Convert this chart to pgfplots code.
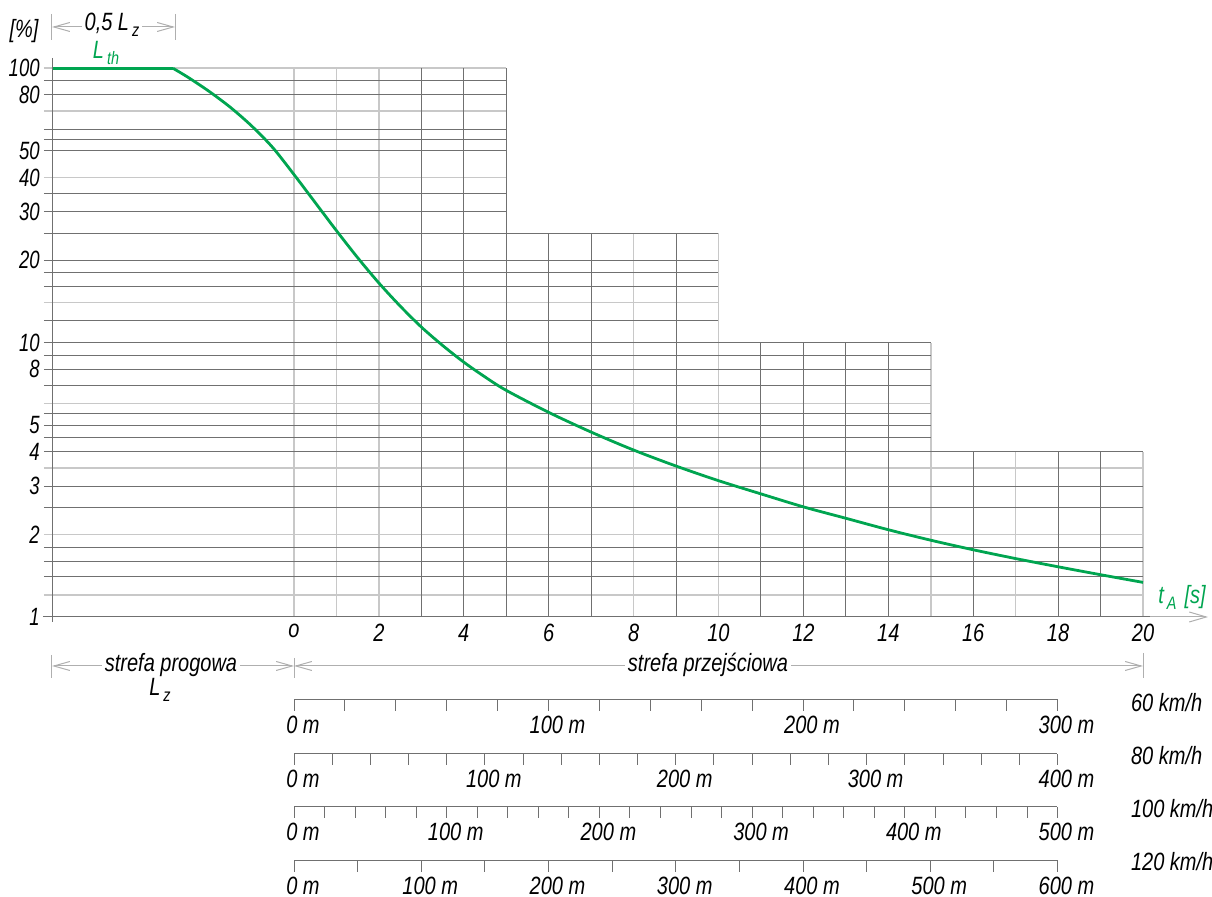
\documentclass[border=0pt]{standalone}
\usepackage{pgfplots}
\usepackage{pgfplotstable}
\pgfplotsset{compat=1.18}
\usepackage{fontspec}
\setmainfont{Liberation Sans}[FakeStretch=0.8]
\newfontfamily\narrowfont{Liberation Sans}[FakeStretch=0.74]
\usetikzlibrary{arrows.meta}
\definecolor{cg}{RGB}{0,165,80}
\definecolor{gdk}{RGB}{112,112,112}
\definecolor{glt}{RGB}{200,200,200}
\definecolor{dim}{RGB}{175,175,175}
\newcommand{\lab}{\fontsize{12.5}{14}\selectfont\itshape}
\newcommand{\nlab}{\narrowfont\fontsize{12.5}{14}\selectfont\itshape}
\newcommand{\sub}[1]{\kern1.5pt\raisebox{-3pt}{\fontsize{9}{9}\selectfont #1}}
\tikzset{
  gd/.style={draw=gdk,line width=0.45pt},
  gl/.style={draw=glt,line width=0.8pt},
  dl/.style={draw=dim,line width=0.5pt},
  barb/.style={{Straight Barb[length=8pt,width=4.5pt]}-{Straight Barb[length=8pt,width=4.5pt]}}
}
\pgfplotstableread{
t v
-5.7 100
-2.85 100
}\flat
\pgfplotstableread{
t v
-2.85 100
-2.5 92.8
-2.0 82.4
-1.5 72.1
-1.0 61.7
-0.5 51.4
0 41
0.5 32.4
1 25.6
1.5 20.4
2 16.5
2.5 13.6
3 11.4
3.5 9.77
4 8.49
4.5 7.50
5 6.70
6 5.57
7 4.72
8 4.06
9 3.55
10 3.14
11 2.81
12 2.52
13 2.29
14 2.08
15 1.905
16 1.758
17 1.633
18 1.524
19 1.426
20 1.337
}\curve
\pgfplotsset{scaleax/.style={
  scale only axis, width=381.75pt, height=8pt, ymin=0, ymax=1,
  axis y line=none, axis x line*=bottom, anchor=south west, ytick=\empty,
  tick align=outside, major tick length=5.5pt, minor tick length=5.5pt,
  tick style={draw=gdk,line width=0.45pt},
  axis line style={draw=gdk,line width=0.5pt},
  xticklabel style={font=\lab, anchor=north, xshift=4.5pt, yshift=-1.3pt, inner sep=1pt}
}}
\begin{document}
\begin{tikzpicture}
\path[use as bounding box] (-26pt,-140pt) rectangle (580pt,308.5pt);
\begin{axis}[
  scale only axis, width=545.5pt, height=274.35pt,
  xmin=-5.7, xmax=20, ymode=log, ymin=1, ymax=100,
  axis line style={draw=none},
  major tick length=0pt, minor tick length=0pt,
  xtick={0,2,...,20}, xticklabels={o,2,4,6,8,10,12,14,16,18,20},
  ytick={1,2,3,4,5,8,10,20,30,40,50,80,100},
  yticklabels={1,2,3,4,5,8,10,20,30,40,50,80,100},
  clip=false,
  ticklabel style={inner sep=1pt},
  xticklabel style={font=\lab, anchor=north, yshift=-2.5pt},
  yticklabel style={font=\nlab, anchor=east, xshift=-5pt},
]
% light horizontal
\pgfplotsinvokeforeach{1.2,2,3.5}{\draw[gl] (axis cs:-5.89,#1) -- (axis cs:20,#1);}
\pgfplotsinvokeforeach{6}{\draw[gl] (axis cs:-5.89,#1) -- (axis cs:15,#1);}
\pgfplotsinvokeforeach{14}{\draw[gl] (axis cs:-5.89,#1) -- (axis cs:10,#1);}
\pgfplotsinvokeforeach{40,70,100}{\draw[gl] (axis cs:-5.89,#1) -- (axis cs:5,#1);}
% light vertical
\pgfplotsinvokeforeach{0,1,2}{\draw[gl] (axis cs:#1,1) -- (axis cs:#1,100);}
\pgfplotsinvokeforeach{8,10}{\draw[gl] (axis cs:#1,1) -- (axis cs:#1,25);}
\pgfplotsinvokeforeach{15}{\draw[gl] (axis cs:#1,1) -- (axis cs:#1,10);}
\pgfplotsinvokeforeach{17,20}{\draw[gl] (axis cs:#1,1) -- (axis cs:#1,4);}
% dark horizontal
\pgfplotsinvokeforeach{1.4,1.6,1.8,2.5,3,4}{\draw[gd] (axis cs:-5.89,#1) -- (axis cs:20,#1);}
\pgfplotsinvokeforeach{4.5,5,5.5,7,8,9,10}{\draw[gd] (axis cs:-5.89,#1) -- (axis cs:15,#1);}
\pgfplotsinvokeforeach{12,16,18,20,25}{\draw[gd] (axis cs:-5.89,#1) -- (axis cs:10,#1);}
\pgfplotsinvokeforeach{30,35,50,55,60,80,90}{\draw[gd] (axis cs:-5.89,#1) -- (axis cs:5,#1);}
% dark vertical
\pgfplotsinvokeforeach{3,4,5}{\draw[gd] (axis cs:#1,1) -- (axis cs:#1,100);}
\pgfplotsinvokeforeach{6,7,9}{\draw[gd] (axis cs:#1,1) -- (axis cs:#1,25);}
\pgfplotsinvokeforeach{11,12,13,14}{\draw[gd] (axis cs:#1,1) -- (axis cs:#1,10);}
\pgfplotsinvokeforeach{16,18,19}{\draw[gd] (axis cs:#1,1) -- (axis cs:#1,4);}
\addplot[cg, line width=1.4pt] table {\flat};
\addplot[cg, line width=1.4pt, smooth, tension=0.5] table {\curve};
\end{axis}
% distance scales
\begin{axis}[scaleax, at={(121pt,-41.5pt)}, xmin=0, xmax=300,
  xtick={0,100,200,300}, minor xtick={20,40,...,280},
  xticklabels={0 m,100 m,200 m,300 m}]
\end{axis}
\begin{axis}[scaleax, at={(121pt,-68.5pt)}, xmin=0, xmax=400,
  xtick={0,100,200,300,400}, minor xtick={20,40,...,380},
  xticklabels={0 m,100 m,200 m,300 m,400 m}]
\end{axis}
\begin{axis}[scaleax, at={(121pt,-95pt)}, xmin=0, xmax=500,
  xtick={0,100,200,300,400,500}, minor xtick={20,40,...,480},
  xticklabels={0 m,100 m,200 m,300 m,400 m,500 m}]
\end{axis}
\begin{axis}[scaleax, at={(121pt,-122pt)}, xmin=0, xmax=600,
  xtick={0,100,200,300,400,500,600}, minor xtick={50,150,...,550},
  xticklabels={0 m,100 m,200 m,300 m,400 m,500 m,600 m}]
\end{axis}
\begin{scope}[shift={(-26pt,308.5pt)}, x=0.5pt, y=-0.5pt]
  \draw[draw=gdk, line width=0.5pt] (43,617) -- (1190,617);
  \draw[draw=dim, line width=0.5pt, -{Straight Barb[length=8.5pt,width=5pt]}] (1150,617) -- (1208,617);
  \draw[gd] (52,58) -- (52,622);
  % top dimension
  \node[font=\lab] at (24,31) {[\%]};
  \draw[dl] (52,14) -- (52,40);
  \draw[dl] (175,14) -- (175,40);
  \draw[dl,barb] (52,27) -- (175,27);
  \node[font=\lab, fill=white, inner sep=1.5pt] at (112,25) {0,5 L\sub{z}};
  \node[font=\lab, text=cg] at (106,53) {L\sub{th}};
  \node[font=\lab, text=cg] at (1182,597) {t\sub{A}\kern4pt[s]};
  % bottom dimension
  \draw[dl] (52,655) -- (52,678);
  \draw[dl] (294,658) -- (294,678);
  \draw[dl] (1143,653) -- (1143,678);
  \draw[dl,barb] (52,666) -- (294,666);
  \draw[dl,barb] (294,666) -- (1143,666);
  \node[font=\lab, fill=white, inner sep=1.5pt] at (171,665) {strefa progowa};
  \node[font=\lab, fill=white, inner sep=1.5pt] at (708,665) {strefa przejściowa};
  \node[font=\lab] at (160,690) {L\sub{z}};
  % speeds
  \node[font=\lab, anchor=west] at (1124,703) {60 km/h};
  \node[font=\lab, anchor=west] at (1124,756) {80 km/h};
  \node[font=\lab, anchor=west] at (1124,809) {100 km/h};
  \node[font=\lab, anchor=west] at (1124,862) {120 km/h};
\end{scope}
\end{tikzpicture}
\end{document}
